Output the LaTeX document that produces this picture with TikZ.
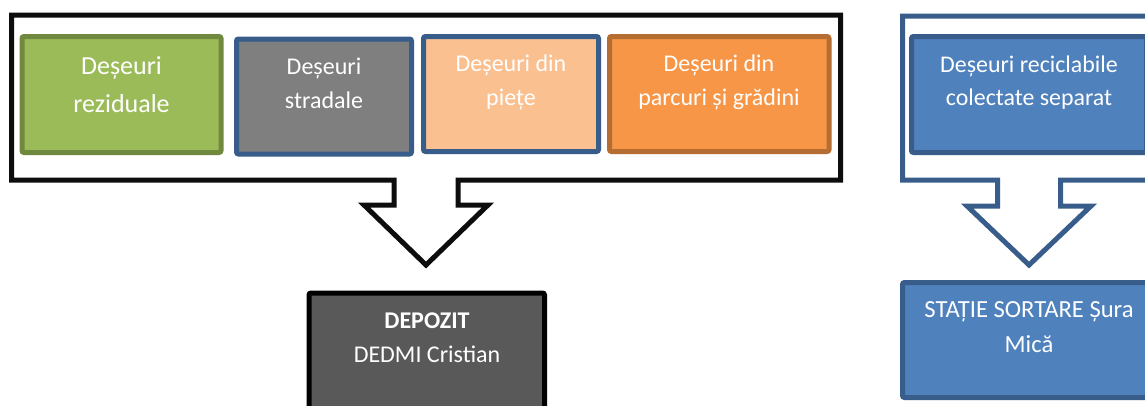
\documentclass[tikz,border=0pt]{standalone}
\usepackage{fontspec}
\setmainfont{Carlito}
\definecolor{gfill}{HTML}{9BBB59}
\definecolor{gline}{HTML}{71893F}
\definecolor{grfill}{HTML}{7F7F7F}
\definecolor{bline}{HTML}{385D8A}
\definecolor{pfill}{HTML}{FAC090}
\definecolor{ofill}{HTML}{F79646}
\definecolor{oline}{HTML}{B66D31}
\definecolor{bfill}{HTML}{4F81BD}
\definecolor{dfill}{HTML}{595959}
\definecolor{kline}{HTML}{0D0D0D}
\begin{document}
\begin{tikzpicture}[x=1pt,y=-1pt,
  box/.style={draw, line width=5pt, rounded corners=2pt, inner sep=0pt, outer sep=0pt},
  callout/.style={line width=5pt, fill=white},
  lbl/.style={text=white, anchor=base, inner sep=0pt, font=\fontsize{24}{34}\selectfont},
  ]
\useasboundingbox (0,0) rectangle (1145,405);
% left callout
\draw[callout, draw=kline] (11.5,15) -- (840.5,15) -- (840.5,180) -- (458,180) -- (458,205) -- (488,205) -- (426,265) -- (364,205) -- (394,205) -- (394,180) -- (11.5,180) -- cycle;
% right callout
\draw[callout, draw=bline] (902.5,16) -- (1155.5,16) -- (1155.5,180) -- (1060.5,180) -- (1060.5,206) -- (1091,206) -- (1029,265) -- (967,206) -- (997.5,206) -- (997.5,180) -- (902.5,180) -- cycle;
% boxes
\node[box, fill=gfill, draw=gline, minimum width=199pt, minimum height=116pt] (rez) at (121.5,94.5) {};
\node[box, fill=grfill, draw=bline, minimum width=175pt, minimum height=115pt] (str) at (324,96.5) {};
\node[box, fill=pfill, draw=bline, minimum width=175pt, minimum height=115pt] (pie) at (511,94) {};
\node[box, fill=ofill, draw=oline, minimum width=219.5pt, minimum height=115pt] (par) at (719.25,94) {};
\node[box, fill=bfill, draw=bline, minimum width=235pt, minimum height=116pt] (rec) at (1029,94.5) {};
\node[box, fill=dfill, draw=black, minimum width=235.5pt, minimum height=120pt] (dep) at (426.75,353) {};
\node[box, fill=bfill, draw=bline, minimum width=253pt, minimum height=115pt] (sor) at (1029,340) {};
% labels
\node[lbl, font=\fontsize{26}{38}\selectfont] (trez) at (121.5,74) {\begin{tabular}[t]{@{}c@{}}Deșeuri\\reziduale\end{tabular}};
\node[lbl] (tstr) at (324,74) {\begin{tabular}[t]{@{}c@{}}Deșeuri\\stradale\end{tabular}};
\node[lbl] (tpie) at (511,71) {\begin{tabular}[t]{@{}c@{}}Deșeuri din\\piețe\end{tabular}};
\node[lbl] (tpar) at (719,71) {\begin{tabular}[t]{@{}c@{}}Deșeuri din\\parcuri și grădini\end{tabular}};
\node[lbl, font=\fontsize{23.9}{33}\selectfont] (trec) at (1029,72) {\begin{tabular}[t]{@{}c@{}}Deșeuri reciclabile\\colectate separat\end{tabular}};
\node[lbl] (tdep) at (427,328) {\begin{tabular}[t]{@{}c@{}}\textbf{DEPOZIT}\\DEDMI Cristian\end{tabular}};
\node[lbl, font=\fontsize{24.6}{35}\selectfont] (tsor) at (1029,317) {\begin{tabular}[t]{@{}c@{}}STAȚIE SORTARE Șura\\Mică\end{tabular}};
\end{tikzpicture}
\end{document}
